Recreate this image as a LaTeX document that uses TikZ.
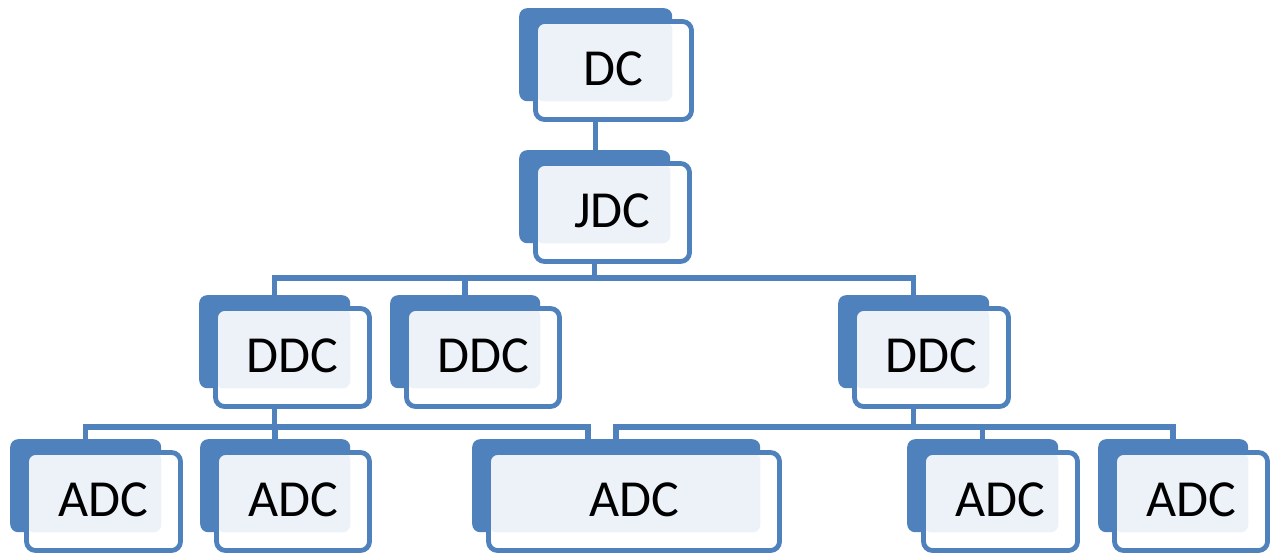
\documentclass[tikz,border=0pt]{standalone}
\usepackage{fontspec}
\setmainfont{Carlito}
\usetikzlibrary{backgrounds}
\definecolor{acc}{HTML}{4F81BD}
\definecolor{lite}{HTML}{EDF2F9}
\tikzset{
 backbox/.style={fill=acc, rounded corners=8pt, inner sep=0pt, anchor=north west, minimum height=93pt},
 frontbox/.style={draw=acc, line width=4.8pt, fill=white, rounded corners=9pt, inner sep=0pt, minimum height=98pt, font=\fontsize{52}{62}\selectfont},
 conn/.style={draw=acc, line width=5.5pt},
}
\newcommand\obox[5]{%
 \node[backbox, minimum width=#4pt] (#1b) at (#2,-#3) {};
 \pgfmathsetmacro\fx{#2+(#4+36)/2}%
 \pgfmathsetmacro\fy{-(#3+62.5)}%
 \pgfmathsetmacro\fw{#4+3}%
 \node[frontbox, minimum width=\fw pt, path picture={\fill[lite, rounded corners=8pt] (path picture bounding box.north west) rectangle (#1b.south east);}] (#1) at (\fx,\fy) {\raisebox{3pt}{#5}};
}
\begin{document}
\begin{tikzpicture}[x=1pt,y=1pt]
\useasboundingbox (0,0) rectangle (1275,-556);
\obox{dc}{519}{8}{153}{DC}
\obox{jdc}{519}{150}{151}{JDC}
\obox{ddca}{199}{295}{151}{DDC}
\obox{ddcb}{390}{295}{150}{DDC}
\obox{ddcc}{838}{295}{151}{DDC}
\obox{adca}{10}{439}{151}{ADC}
\obox{adcb}{200}{439}{150}{ADC}
\obox{adcc}{472}{439}{288}{ADC}
\obox{adcd}{907}{439}{151}{ADC}
\obox{adce}{1098}{439}{150}{ADC}
\coordinate (busa) at (0,-278);
\coordinate (busb) at (0,-427);
\coordinate (adccl) at (588,-439);
\begin{pgfonlayer}{background}
\fill[white] (0,0) rectangle (1275,-556);
\draw[conn] (dcb.center |- dc.south) -- (dcb.center |- jdcb.north);
\draw[conn] (jdcb.center |- jdc.south) -- (jdcb.center |- busa);
\draw[conn] (ddcab.north) -- (ddcab.north |- busa) -- (ddccb.north |- busa) -- (ddccb.north);
\draw[conn] (ddcbb.north) -- (ddcbb.north |- busa);
\draw[conn] (ddcab.center |- ddca.south) -- (ddcab.center |- busb);
\draw[conn] (adcab.north) -- (adcab.north |- busb) -- (adccl |- busb) -- (adccl);
\draw[conn] (adcbb.north) -- (adcbb.north |- busb);
\draw[conn] (ddccb.center |- ddcc.south) -- (ddccb.center |- busb);
\draw[conn] (adccb.north) -- (adccb.north |- busb) -- (adceb.north |- busb) -- (adceb.north);
\draw[conn] (adcdb.north) -- (adcdb.north |- busb);
\end{pgfonlayer}
\end{tikzpicture}
\end{document}
